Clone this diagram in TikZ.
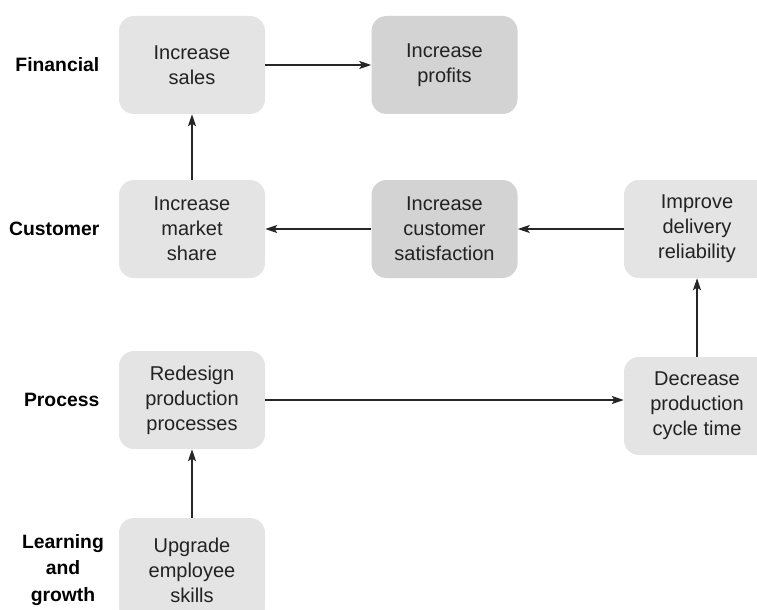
\documentclass[tikz,border=0pt]{standalone}
\usepackage{fontspec}
\setmainfont{Liberation Sans}
\usetikzlibrary{arrows.meta}
\definecolor{boxlight}{HTML}{E4E4E4}
\definecolor{boxdark}{HTML}{D3D3D3}
\definecolor{txt}{HTML}{222222}
\tikzset{
  goal/.style={rectangle, rounded corners=11.25pt, fill=boxlight, draw=none,
    minimum width=109.5pt, minimum height=73.5pt, align=center, text=txt,
    font=\fontsize{15}{18.75}\selectfont},
  goaldark/.style={goal, fill=boxdark},
  persp/.style={align=center, font=\bfseries\fontsize{14.5}{20}\selectfont, text=black},
  link/.style={-{Stealth[length=9pt,width=6pt,inset=2pt]}, line width=0.9pt, color=black!85}
}
\begin{document}
\begin{tikzpicture}[x=0.75pt,y=-0.75pt]
\clip (0,0) rectangle (757,610);
\fill[white] (0,0) rectangle (757,610);
\node[goal] (sales) at (192,65) {Increase\\sales};
\node[goaldark] (profits) at (444.5,65) {Increase\\profits};
\node[goal] (market) at (192,229) {Increase\\market\\share};
\node[goaldark] (satis) at (444.5,229) {Increase\\customer\\satisfaction};
\node[goal] (improve) at (697,229) {Improve\\delivery\\reliability};
\node[goal] (redesign) at (192,400) {Redesign\\production\\processes};
\node[goal] (decrease) at (697,406) {Decrease\\production\\cycle time};
\node[goal, minimum height=78pt] (upgrade) at (192,570) {Upgrade\\employee\\skills};
\node[persp, anchor=east] (lfin) at (104,65) {Financial};
\node[persp, anchor=east] (lcus) at (104,229) {Customer};
\node[persp, anchor=east] (lpro) at (104,400) {Process};
\node[persp] (llea) at (63,570) {Learning\\and\\growth};
\draw[link] (sales.east) -- (profits.west);
\draw[link] (market.north) -- (sales.south);
\draw[link] (satis.west) -- (market.east);
\draw[link] (improve.west) -- (satis.east);
\draw[link] (decrease.north) -- (improve.south);
\draw[link] (redesign.east) -- (redesign.east -| decrease.west);
\draw[link] (upgrade.north) -- (redesign.south);
\end{tikzpicture}
\end{document}
